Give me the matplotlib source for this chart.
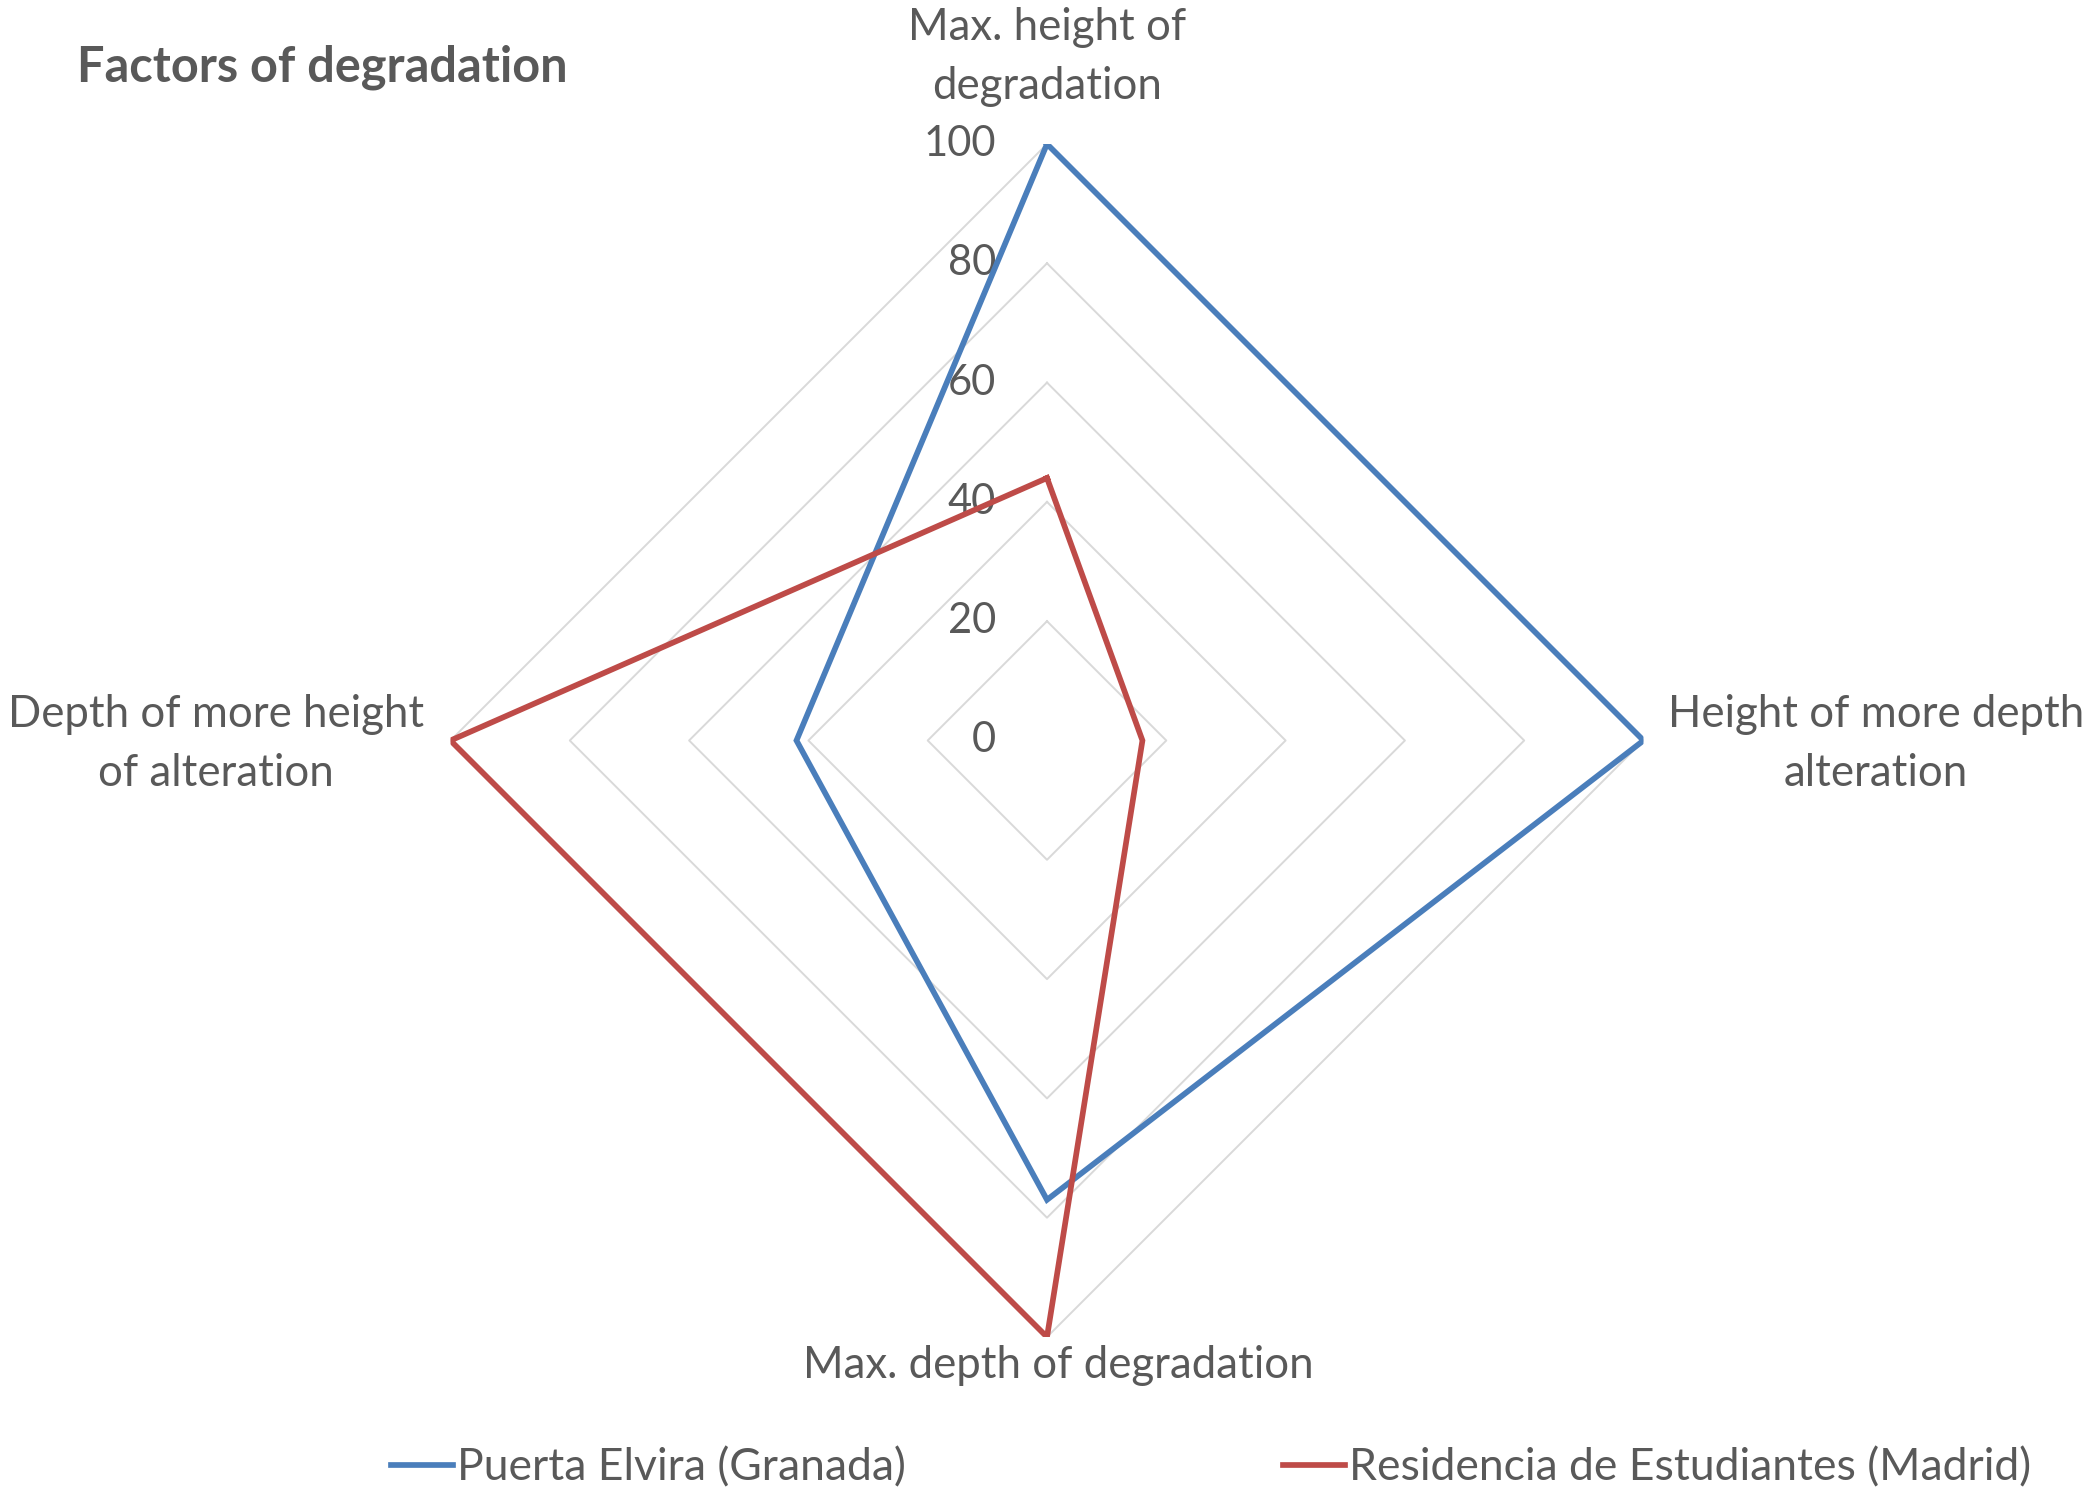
import numpy
from matplotlib import pyplot
from matplotlib import transforms

# categories clockwise from the top
categories = ["Max. height of\ndegradation",
              "Height of more depth\nalteration",
              "Max. depth of degradation",
              "Depth of more height\nof alteration"]
puerta_elvira = [100, 100, 77, 42]
residencia = [44, 16, 100, 100]
ticks = [0, 20, 40, 60, 80, 100]
series_names = ["Puerta Elvira (Granada)", "Residencia de Estudiantes (Madrid)"]

W, H = 2091, 1493
TXT = "#595959"
FONT = "Lato"
FS = 31.5

pyplot.rcParams['font.family'] = [FONT, 'DejaVu Sans']


def px(x, y):
    """pixel position (from top left) -> figure fraction"""
    return x / W, 1 - y / H


fig = pyplot.figure(figsize=(W / 100, H / 100), dpi=100)
cx, cy = 1047, 740.5
rad = 596.5
ax = fig.add_axes([(cx - rad) / W, (H - cy - rad) / H, 2 * rad / W, 2 * rad / H],
                  projection='polar')
ax.set_theta_zero_location('N')
ax.set_theta_direction(-1)
ax.set_ylim(0, 100)
ax.grid(False)
ax.spines['polar'].set_visible(False)
ax.set_xticks([])
ax.set_yticks([])
ax.patch.set_alpha(0)

theta = numpy.linspace(0, 2 * numpy.pi, len(categories), endpoint=False)
theta_c = numpy.append(theta, theta[0])

# diamond gridlines
for t in ticks[1:]:
    ax.plot(theta_c, [t] * len(theta_c), color="#d9d9d9", lw=1.4, zorder=1)

# radial value labels
off = transforms.offset_copy(ax.transData, fig=fig, x=-51, y=0, units='dots')
for t in ticks:
    ax.text(0, t, str(t), transform=off, ha='right', va='center',
            fontsize=30, color=TXT)

lines = []
for vals, col in ((puerta_elvira, "#4a7ebb"), (residencia, "#be4b48")):
    v = numpy.append(vals, vals[0])
    ln, = ax.plot(theta_c, v, color=col, lw=4.1, zorder=3,
                  solid_joinstyle='miter')
    lines.append(ln)

# category labels
fig.text(*px(1047, 57), categories[0], ha='center', va='center',
         fontsize=FS, color=TXT, linespacing=1.55)
fig.text(*px(1876, 744), categories[1], ha='center', va='center',
         fontsize=FS, color=TXT, linespacing=1.55)
fig.text(*px(1058, 1366), categories[2], ha='center', va='center',
         fontsize=FS, color=TXT)
fig.text(*px(216, 744), categories[3], ha='center', va='center',
         fontsize=FS, color=TXT, linespacing=1.55)

fig.text(*px(77, 67), "Factors of degradation", ha='left', va='center',
         fontsize=35, fontweight='bold', color=TXT)

fig.legend(lines, series_names, loc='center', bbox_to_anchor=px(1211, 1468),
           ncol=2, frameon=False, fontsize=32, labelcolor=TXT,
           handlelength=1.4, handletextpad=0.08, columnspacing=8.5)

fig.savefig("out.png", dpi=100)
